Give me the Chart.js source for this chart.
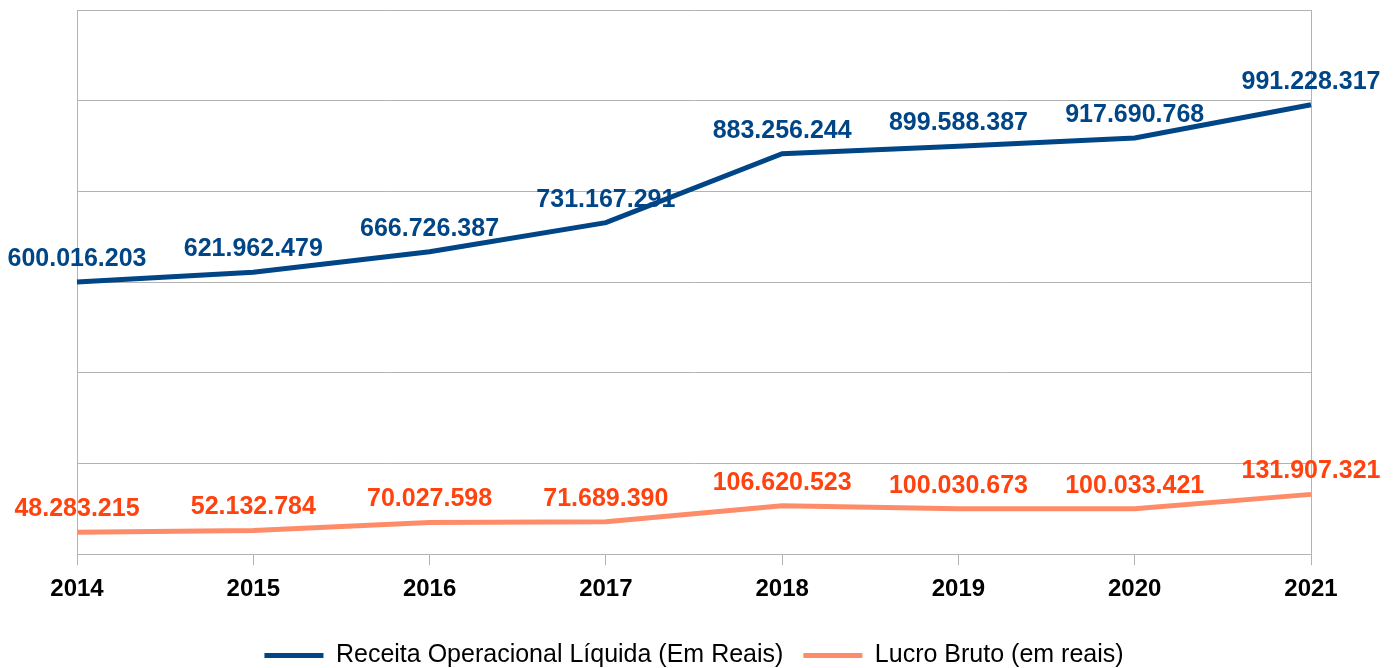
<!DOCTYPE html>
<html>
<head>
<meta charset="utf-8">
<script src="https://cdn.jsdelivr.net/npm/chart.js@4/dist/chart.umd.min.js"></script>
<style>
  html, body { margin: 0; padding: 0; background: #fff; }
  #wrap { width: 1396px; height: 668px; }
</style>
</head>
<body>
<div id="wrap"><canvas id="chart" width="1396" height="668"></canvas></div>
<script>
const years = ['2014', '2015', '2016', '2017', '2018', '2019', '2020', '2021'];
const receita = [600016203, 621962479, 666726387, 731167291, 883256244, 899588387, 917690768, 991228317];
const lucro = [48283215, 52132784, 70027598, 71689390, 106620523, 100030673, 100033421, 131907321];

const seriesNames = ['Receita Operacional Líquida (Em Reais)', 'Lucro Bruto (em reais)'];
const lineColors = ['#004586', '#ff8c69'];
const labelColors = ['#004586', '#ff420e'];

const FONT = '"Liberation Sans", Arial, sans-serif';
const grey = '#b3b3b3';

// 1.234.567 style
const fmt = (v) => String(v).replace(/\B(?=(\d{3})+(?!\d))/g, '.');

const valueLabels = {
  id: 'valueLabels',
  afterDatasetsDraw(chart) {
    const ctx = chart.ctx;
    ctx.save();
    ctx.font = `bold 25px ${FONT}`;
    ctx.textAlign = 'center';
    ctx.textBaseline = 'middle';
    chart.data.datasets.forEach((ds, i) => {
      const meta = chart.getDatasetMeta(i);
      ctx.fillStyle = labelColors[i];
      meta.data.forEach((pt, j) => {
        ctx.fillText(fmt(ds.data[j]), pt.x, pt.y - 23);
      });
    });
    ctx.restore();
  },
};

const init = () => {
  const lastIdx = years.length - 1;
  new Chart(document.getElementById('chart'), {
    type: 'line',
    data: {
      labels: years,
      datasets: [
        {
          label: seriesNames[0],
          data: receita,
          borderColor: lineColors[0],
          backgroundColor: lineColors[0],
          borderWidth: 5,
          pointRadius: 0,
          tension: 0,
        },
        {
          label: seriesNames[1],
          data: lucro,
          borderColor: lineColors[1],
          backgroundColor: lineColors[1],
          borderWidth: 5,
          pointRadius: 0,
          tension: 0,
        },
      ],
    },
    options: {
      responsive: false,
      animation: false,
      events: [],
      layout: { padding: { left: 77, right: 85, top: 10, bottom: -10 } },
      scales: {
        x: {
          offset: false,
          border: { color: grey, width: 1 },
          grid: {
            color: (c) => (c.index === lastIdx ? grey : 'rgba(0,0,0,0)'),
            tickColor: grey,
            tickLength: 11,
            drawOnChartArea: true,
          },
          ticks: {
            color: '#000',
            font: { family: FONT, size: 24, weight: 'bold' },
            padding: 10,
            autoSkip: false,
            maxRotation: 0,
          },
          afterFit: (scale) => { scale.height += 9; },
        },
        y: {
          min: 0,
          max: 1200000000,
          border: { color: grey, width: 1 },
          grid: { color: grey, drawTicks: false },
          ticks: { display: false, stepSize: 200000000 },
        },
      },
      plugins: {
        tooltip: { enabled: false },
        legend: {
          position: 'bottom',
          labels: {
            color: '#000',
            font: { family: FONT, size: 25 },
            boxWidth: 59,
            boxHeight: 5,
            padding: 20,
            generateLabels: (chart) => chart.data.datasets.map((ds, i) => ({
              text: ds.label,
              fillStyle: lineColors[i],
              strokeStyle: lineColors[i],
              lineWidth: 0,
              datasetIndex: i,
            })),
          },
        },
      },
    },
    plugins: [valueLabels],
  });
};

init();
</script>
</body>
</html>
